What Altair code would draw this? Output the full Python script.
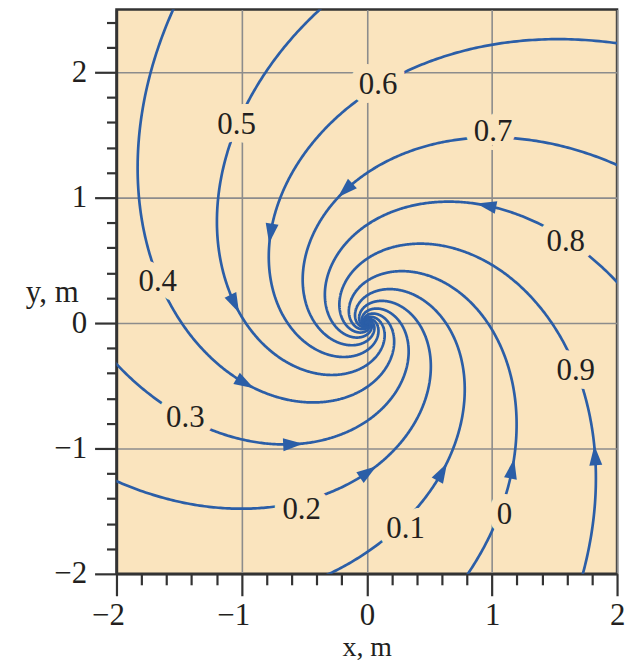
import math
import numpy as np
import pandas as pd
import altair as alt

# ---- values ----
PSI_LEVELS = [0.0, 0.1, 0.2, 0.3, 0.4, 0.5, 0.6, 0.7, 0.8, 0.9]
LEVEL_TEXT = ["0", "0.1", "0.2", "0.3", "0.4", "0.5", "0.6", "0.7", "0.8", "0.9"]
# streamlines are logarithmic spirals: ln r = SPIRAL_ALPHA*(2*pi*(1-psi) - theta) + ln(SPIRAL_SCALE)
SPIRAL_ALPHA = 0.676
SPIRAL_SCALE = 0.967
R_MIN, R_MAX = 0.003, 3.6
# label anchor positions (m)
LABEL_X = [1.10, 0.31, -0.52, -1.45, -1.67, -1.04, 0.09, 1.01, 1.59, 1.67]
LABEL_Y = [-1.53, -1.64, -1.49, -0.76, 0.33, 1.58, 1.90, 1.52, 0.65, -0.38]
# arrowhead positions (m)
ARROW_X = [1.18, 0.60, 0.03, -0.59, -0.99, -1.09, -0.77, -0.17, 0.95, 1.83]
ARROW_Y = [-1.16, -1.18, -1.21, -1.02, -0.52, 0.14, 0.71, 1.06, 0.94, -1.06]
# axis ticks
X_TICKS = [-2.0, -1.8, -1.6, -1.4, -1.2, -1.0, -0.8, -0.6, -0.4, -0.2, 0.0,
           0.2, 0.4, 0.6, 0.8, 1.0, 1.2, 1.4, 1.6, 1.8, 2.0]
Y_TICKS = [-2.0, -1.8, -1.6, -1.4, -1.2, -1.0, -0.8, -0.6, -0.4, -0.2, 0.0,
           0.2, 0.4, 0.6, 0.8, 1.0, 1.2, 1.4, 1.6, 1.8, 2.0, 2.2, 2.4]
X_DOMAIN = [-2, 2]
Y_DOMAIN = [-2, 2.5]

PEACH = "#FAE4BE"
BLUE = "#2B5EA7"
INK = "#231F20"
FONT = "Liberation Serif"
FS = 31
W, H = 503, 567

# ---- streamlines from the stream function levels ----
rows = []
for psi in PSI_LEVELS:
    phi = 2 * math.pi * (1 - psi)
    c = math.log(SPIRAL_SCALE)
    th = np.arange(phi - (math.log(R_MAX) - c) / SPIRAL_ALPHA,
                   phi - (math.log(R_MIN) - c) / SPIRAL_ALPHA, 0.008)
    r = np.exp(SPIRAL_ALPHA * (phi - th) + c)
    xs, ys = r * np.cos(th), r * np.sin(th)
    for i, (a, b) in enumerate(zip(xs, ys)):
        rows.append({"x": round(float(a), 4), "y": round(float(b), 4),
                     "psi": psi, "i": i})
lines_df = pd.DataFrame(rows)

# arrows: snap to nearest point on its streamline, orient along the flow
arows = []
for psi, ax, ay in zip(PSI_LEVELS, ARROW_X, ARROW_Y):
    sub = lines_df[lines_df.psi == psi].reset_index(drop=True)
    d = (sub.x - ax) ** 2 + (sub.y - ay) ** 2
    j = int(d.idxmin())
    dx = (sub.x[j + 3] - sub.x[j - 3]) * (W / 4)
    dy = (sub.y[j + 3] - sub.y[j - 3]) * (H / 4.5)
    ang = math.degrees(math.atan2(dx, dy)) % 360
    arows.append({"x": sub.x[j], "y": sub.y[j], "angle": ang})
arrow_df = pd.DataFrame(arows)

label_df = pd.DataFrame({"x": LABEL_X, "y": LABEL_Y, "t": LEVEL_TEXT})

is_major = "abs(datum.value - round(datum.value)) < 0.01"
lab_expr = f"{is_major} ? format(round(datum.value), 'd') : ''"

x_axis = alt.Axis(
    values=X_TICKS, tickCount=60,
    tickSize={"condition": {"test": is_major, "value": 22}, "value": 11},
    gridOpacity={"condition": {"test": is_major, "value": 1}, "value": 0},
    labelExpr=lab_expr,
    labelOverlap=False,
    grid=True, gridColor="#8C8C8C", gridWidth=1.6,
    domainColor="#333333", domainWidth=2.5,
    tickColor="#333333", tickWidth=2.2,
    labelFont=FONT, labelFontSize=FS, labelColor=INK,
    labelAlign="right", labelOffset=8, labelPadding=5,
    title="x, m", titleFont=FONT, titleFontSize=28, titleFontWeight="normal",
    titleColor=INK, titleBaseline="middle", titleY=74,
)
y_axis = alt.Axis(
    values=Y_TICKS, tickCount=60,
    tickSize={"condition": {"test": is_major, "value": 22}, "value": 10},
    gridOpacity={"condition": {"test": is_major, "value": 1}, "value": 0},
    labelExpr=lab_expr,
    labelOverlap=False,
    grid=True, gridColor="#8C8C8C", gridWidth=1.6,
    domainColor="#333333", domainWidth=2.5,
    tickColor="#333333", tickWidth=2.2,
    labelFont=FONT, labelFontSize=FS, labelColor=INK, labelPadding=8,
    title="y, m", titleFont=FONT, titleFontSize=FS, titleFontWeight="normal",
    titleColor=INK, titleAngle=0, titleAlign="center", titleBaseline="middle",
    titleX=-65, titleY=284,
)

xs_ = alt.Scale(domain=X_DOMAIN, nice=False, zero=False)
ys_ = alt.Scale(domain=Y_DOMAIN, nice=False, zero=False)

lines = alt.Chart(lines_df).mark_line(clip=True, color=BLUE, strokeWidth=2.7).encode(
    x=alt.X("x:Q", scale=xs_, axis=x_axis),
    y=alt.Y("y:Q", scale=ys_, axis=y_axis),
    detail="psi:N",
    order="i:Q",
)

halo = alt.Chart(label_df).mark_text(
    font=FONT, fontSize=FS, color=PEACH, stroke=PEACH, strokeWidth=18,
    strokeJoin="round", baseline="middle", align="center"
).encode(x=alt.X("x:Q", scale=xs_), y=alt.Y("y:Q", scale=ys_), text="t:N")

labels = alt.Chart(label_df).mark_text(
    font=FONT, fontSize=FS, color=INK, baseline="middle", align="center"
).encode(x=alt.X("x:Q", scale=xs_), y=alt.Y("y:Q", scale=ys_), text="t:N")

arrows = alt.Chart(arrow_df).mark_point(
    shape="M0,-1L0.65,1L-0.65,1Z", filled=True, size=400, color=BLUE, opacity=1
).encode(
    x=alt.X("x:Q", scale=xs_), y=alt.Y("y:Q", scale=ys_),
    angle=alt.Angle("angle:Q", scale=None),
)

chart = alt.layer(lines, halo, labels, arrows).properties(
    width=W, height=H,
    autosize=alt.AutoSizeParams(type="none"),
    padding={"left": 109, "top": 0, "right": 10, "bottom": 88},
    background="white",
).configure_view(fill=PEACH, stroke="#333333", strokeWidth=2.5)

chart.save("out.html", embed_options={"renderer": "svg", "actions": False})
